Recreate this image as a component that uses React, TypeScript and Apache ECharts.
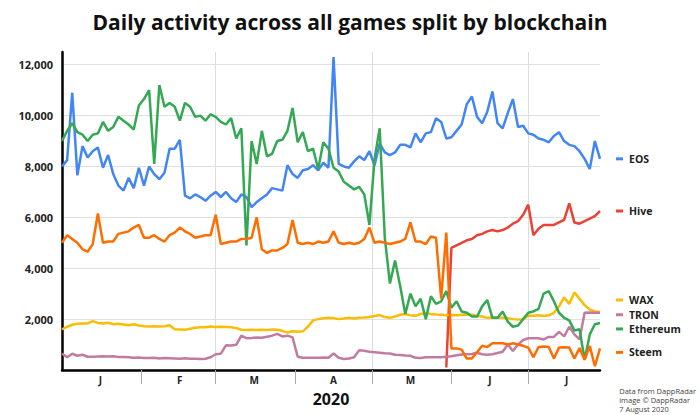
import React, { useEffect, useRef } from 'react';
import * as echarts from 'echarts';

// ---- Data (values sampled every 2 days from 1 Jan 2020) ----
const START_UTC = Date.UTC(2020, 0, 1);
const DAY_COUNT = 211; // 1 Jan .. 29 Jul 2020
const STEP = 2;
const HIVE_START_DAY = 150;

const monthLetters = ['J', 'F', 'M', 'A', 'M', 'J', 'J'];
const xAxisName = '2020';

const eos = [
  8000, 8250, 10900, 7650, 8800, 8350, 8600, 8750, 7950, 8450,
  7700, 7250, 7050, 7550, 7150, 7950, 7250, 8000, 7700, 7500,
  7750, 8700, 8700, 9050, 6850, 6750, 6900, 6800, 6650, 6850,
  7000, 6800, 7000, 6750, 6600, 6900, 6800, 6400, 6600, 6750,
  6900, 7150, 7100, 7050, 8050, 7700, 7550, 7850, 7900, 8050,
  7850, 8150, 7950, 12300, 8100, 8000, 7950, 8200, 8400, 8250,
  8600, 8050, 8900, 8550, 8450, 8550, 8850, 8850, 8750, 9300,
  8950, 9300, 9350, 9900, 9750, 9100, 9150, 9400, 9650, 10450,
  10750, 9950, 9700, 10150, 10950, 9700, 9500, 10100, 10650, 9550,
  9600, 9300, 9250, 9100, 9050, 8950, 9200, 9350, 9000, 8850,
  8800, 8600, 8300, 7900, 9000, 8300,
];

const hive = [
  100, 4800, 4900, 5000, 5100, 5150, 5300, 5350, 5450, 5500,
  5450, 5500, 5600, 5750, 5850, 6100, 6500, 5300, 5550, 5700,
  5700, 5700, 5800, 5900, 6550, 5800, 5750, 5850, 5950, 6050,
  6250,
];

const wax = [
  1600, 1700, 1780, 1820, 1830, 1830, 1920, 1850, 1830, 1860,
  1800, 1820, 1790, 1760, 1800, 1750, 1720, 1710, 1720, 1710,
  1720, 1760, 1600, 1590, 1580, 1620, 1660, 1680, 1680, 1710,
  1690, 1700, 1690, 1680, 1650, 1580, 1570, 1580, 1570, 1580,
  1570, 1590, 1580, 1540, 1470, 1520, 1500, 1520, 1700, 1950,
  2000, 2030, 2050, 2040, 2000, 2020, 2050, 2020, 2050, 2060,
  2080, 2120, 2160, 2080, 2050, 2100, 2170, 2200, 2150, 2130,
  2200, 2230, 2200, 2180, 2170, 2150, 2170, 2150, 2170, 2180,
  2170, 2120, 2100, 2050, 2060, 2060, 2050, 2040, 2000, 1980,
  2000, 2130, 2130, 2150, 2120, 2150, 2250, 2500, 2850, 2600,
  3050, 2800, 2550, 2380, 2300, 2280,
];

const tron = [
  650, 500, 640, 560, 600, 520, 520, 530, 540, 530,
  540, 510, 510, 500, 480, 490, 470, 470, 480, 450,
  470, 460, 450, 440, 460, 440, 440, 430, 440, 500,
  620, 640, 970, 960, 990, 1350, 1250, 1260, 1280, 1270,
  1310, 1350, 1420, 1320, 1350, 1280, 520, 480, 480, 480,
  480, 490, 480, 650, 480, 430, 450, 500, 780, 760,
  720, 700, 680, 660, 650, 600, 590, 570, 560, 480,
  470, 500, 500, 500, 500, 520, 540, 580, 610, 620,
  630, 680, 620, 600, 620, 670, 720, 1000, 750, 1000,
  1180, 1250, 1250, 1250, 1200, 1300, 1300, 1500, 1320, 1700,
  1400, 1200, 2250, 2260, 2250, 2250,
];

const ethereum = [
  9000, 9400, 9700, 9350, 9250, 9000, 9250, 9300, 9750, 9400,
  9550, 9950, 9800, 9650, 9450, 10400, 10650, 11000, 8100, 11200,
  10350, 10500, 10350, 9800, 10500, 10350, 9950, 10000, 9800, 10050,
  9950, 9750, 9650, 9900, 9100, 9500, 4900, 9000, 8100, 9400,
  8400, 8500, 9000, 9050, 9400, 10300, 8950, 9350, 8600, 8700,
  7900, 8950, 8700, 7950, 7800, 7400, 7250, 7100, 7200, 6900,
  5700, 8300, 9500, 5200, 3400, 4300, 3300, 2200, 3000, 2500,
  2800, 2000, 2900, 2600, 2700, 3100, 2450, 2700, 2300, 2250,
  2100, 2100, 2500, 2750, 2050, 2050, 2300, 1900, 1700, 1750,
  2000, 2250, 2300, 2400, 3000, 3100, 2700, 2250, 2050, 1950,
  1550, 1600, 400, 1400, 1800, 1850,
];

const steem = [
  5000, 5300, 5150, 5000, 4750, 4650, 4950, 6150, 5000, 5050,
  5050, 5350, 5400, 5450, 5600, 5700, 5200, 5200, 5300, 5150,
  5050, 5300, 5400, 5600, 5450, 5350, 5200, 5250, 5300, 5300,
  6100, 4950, 5000, 5050, 5050, 5150, 5150, 5200, 6000, 4750,
  4600, 4700, 4700, 4800, 4950, 5900, 5000, 4950, 5000, 4950,
  5050, 5000, 5050, 5450, 5000, 4950, 5000, 4950, 5000, 5150,
  5600, 5000, 5050, 5000, 4950, 5000, 5050, 5150, 5800, 5050,
  5050, 4950, 5250, 5200, 2800, 5400, 850, 850, 800, 450,
  450, 700, 950, 900, 1050, 1050, 1050, 1000, 1050, 1000,
  950, 880, 500, 900, 920, 900, 450, 880, 890, 880,
  450, 860, 400, 950, 150, 850,
];

const FONT = "'Open Sans', 'Noto Sans', sans-serif";

const categories: string[] = Array.from({ length: DAY_COUNT }, (_, i) =>
  new Date(START_UTC + i * 86400000).toISOString().slice(0, 10)
);

const toPairs = (vals: number[], startDay = 0) =>
  vals.map((v, i) => [startDay + i * STEP, v]);

const seriesDefs = [
  { name: 'EOS', color: '#4285F4', data: toPairs(eos), dy: 0 },
  { name: 'Hive', color: '#EA4335', data: toPairs(hive, HIVE_START_DAY), dy: 0 },
  { name: 'WAX', color: '#FBBC04', data: toPairs(wax), dy: -12 },
  { name: 'TRON', color: '#C27BA0', data: toPairs(tron), dy: 2 },
  { name: 'Ethereum', color: '#34A853', data: toPairs(ethereum), dy: 6 },
  { name: 'Steem', color: '#FF6D01', data: toPairs(steem), dy: 4 },
];

export default function App() {
  const ref = useRef<HTMLDivElement>(null);

  useEffect(() => {
    document.body.style.margin = '0';
    if (!ref.current) return;
    const chart = echarts.init(ref.current, undefined, { renderer: 'svg' });

    const option: any = {
      animation: false,
      backgroundColor: '#ffffff',
      title: {
        text: 'Daily activity across all games split by blockchain',
        left: 'center',
        top: 6,
        textStyle: { fontFamily: FONT, fontWeight: 'bold', fontSize: 21, color: '#111' },
      },
      grid: { left: 62, right: 100, top: 52, bottom: 45, containLabel: false },
      xAxis: {
        type: 'category',
        data: categories,
        boundaryGap: false,
        name: xAxisName,
        nameLocation: 'middle',
        nameGap: 21,
        nameTextStyle: { fontFamily: FONT, fontWeight: 'bold', fontSize: 16, color: '#111' },
        axisLine: { lineStyle: { color: '#000', width: 2.5 } },
        axisTick: {
          show: true,
          length: 14,
          interval: (i: number, v: string) => i > 0 && v.endsWith('-01'),
          lineStyle: { color: '#aaa', width: 1 },
        },
        axisLabel: {
          interval: (_i: number, v: string) => v.endsWith('-16'),
          formatter: (v: string) => monthLetters[Number(v.slice(5, 7)) - 1],
          fontFamily: FONT,
          fontWeight: 'bold',
          fontSize: 10,
          color: '#222',
          margin: 5,
        },
        splitLine: {
          show: true,
          interval: (i: number, v: string) =>
            i > 0 && v.endsWith('-01') && Number(v.slice(5, 7)) % 2 === 1,
          lineStyle: { color: '#dcdcdc', width: 1 },
        },
      },
      yAxis: {
        type: 'value',
        min: 0,
        max: 12500,
        interval: 2000,
        axisLine: { show: true, lineStyle: { color: '#000', width: 2.5 } },
        axisTick: { show: false },
        axisLabel: {
          formatter: (v: number) => (v > 0 && v % 2000 === 0 ? v.toLocaleString('en-US') : ''),
          fontFamily: FONT,
          fontWeight: 'bold',
          fontSize: 11,
          color: '#222',
          margin: 9,
        },
        splitLine: {
          show: true,
          showMinLine: false,
          showMaxLine: false,
          lineStyle: { color: '#e0e0e0', width: 1 },
        },
      },
      series: seriesDefs.map((s) => ({
        name: s.name,
        type: 'line',
        data: s.data,
        showSymbol: false,
        symbol: 'none',
        color: s.color,
        lineStyle: { width: 2.5, color: s.color },
        endLabel: {
          show: true,
          distance: 16,
          offset: [0, s.dy],
          formatter: `{m|}{n|${s.name}}`,
          rich: {
            m: { backgroundColor: s.color, width: 7, height: 3, verticalAlign: 'middle' },
            n: {
              fontFamily: FONT,
              fontWeight: 'bold',
              fontSize: 10.5,
              lineHeight: 12,
              color: '#222',
              padding: [0, 0, 0, 6],
              verticalAlign: 'middle',
            },
          },
        },
      })),
      graphic: [
        {
          type: 'text',
          right: 4,
          bottom: 2,
          style: {
            text: 'Data from DappRadar\nimage © DappRadar\n7 August 2020',
            align: 'right',
            fontFamily: FONT,
            fontSize: 7.5,
            lineHeight: 9,
            fill: '#444',
          },
        },
      ],
    };

    chart.setOption(option);
    return () => chart.dispose();
  }, []);

  return <div ref={ref} style={{ width: 700, height: 415 }} />;
}
